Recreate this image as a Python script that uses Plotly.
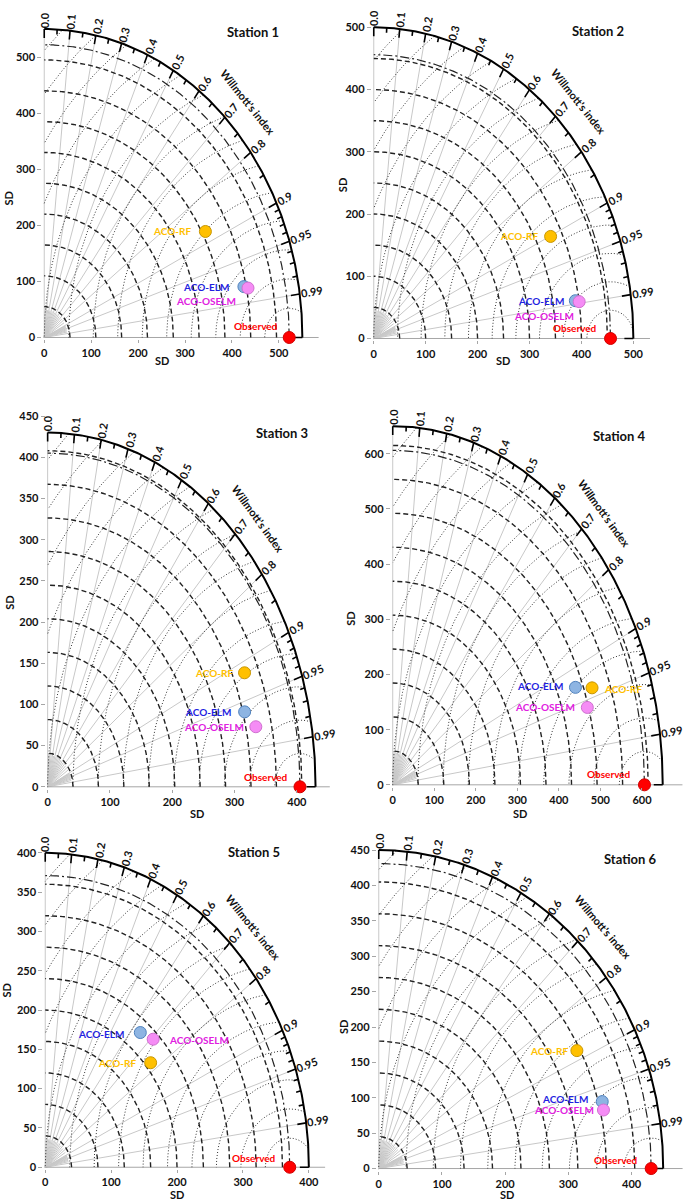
import numpy as np
import plotly.graph_objects as go

W, H = 685, 1204

# ---------------- data ----------------
stations = ["Station 1", "Station 2", "Station 3", "Station 4", "Station 5", "Station 6"]
models = ["ACO-RF", "ACO-ELM", "ACO-OSELM"]
obs_sd = [522, 456, 405, 606, 371, 431]
rf_sd = [392, 378, 345, 511, 208, 355]
rf_idx = [0.876, 0.901, 0.916, 0.939, 0.769, 0.883]
elm_sd = [435, 393, 329, 474, 224, 366]
elm_idx = [0.978, 0.988, 0.961, 0.928, 0.644, 0.966]
oselm_sd = [443, 400, 342, 489, 231, 365]
oselm_idx = [0.980, 0.989, 0.977, 0.958, 0.709, 0.974]
arc_max = [550, 500, 430, 650, 400, 450]
sd_grid_step = [55, 50, 40.8, 61.5, 40, 45]
major_idx = [0.0, 0.1, 0.2, 0.3, 0.4, 0.5, 0.6, 0.7, 0.8, 0.9, 0.95, 0.99, 1.0]
minor_idx = [0.05, 0.15, 0.25, 0.35, 0.45, 0.55, 0.65, 0.75, 0.85, 0.91, 0.92, 0.93, 0.94, 0.96, 0.97, 0.98]
label_idx = ["0.0", "0.1", "0.2", "0.3", "0.4", "0.5", "0.6", "0.7", "0.8", "0.9", "0.95", "0.99"]
radial_idx = [0.1, 0.2, 0.3, 0.4, 0.5, 0.6, 0.7, 0.8, 0.9, 0.95, 0.99]

# ---------------- layout geometry (pixels) ----------------
geo = [
    dict(x0=43.3, y0=335.0, xs=0.470, ys=0.565, xmax=585, ymax=550, xdt=100, ydt=100),
    dict(x0=373.3, y0=336.0, xs=0.520, ys=0.627, xmax=532, ymax=500, xdt=100, ydt=100),
    dict(x0=46.7, y0=787.7, xs=0.624, ys=0.830, xmax=453, ymax=450, xdt=100, ydt=50),
    dict(x0=392.3, y0=785.7, xs=0.416, ys=0.556, xmax=698, ymax=650, xdt=100, ydt=100),
    dict(x0=44.3, y0=1171.0, xs=0.660, ys=0.792, xmax=425, ymax=400, xdt=100, ydt=50),
    dict(x0=378.3, y0=1172.3, xs=0.633, ys=0.713, xmax=481, ymax=450, xdt=100, ydt=50),
]
title_pos = [(252, 27), (598, 26), (281.5, 431), (619, 434), (253, 853), (630, 860)]
xtitle_pos = [(161.7, 358), (503, 358), (196.7, 815), (520, 815), (176.7, 1198.5), (507, 1198.5)]
ytitle_pos = [(8, 195), (342, 182), (8.3, 602), (350, 618), (6, 993), (343.3, 1030)]
# label placement: (anchor, xshift, yshift) for RF, ELM, OSELM, Observed
lab_cfg = [
    [("right", -12, 0), ("right", -13, 0), ("right", -10, -13), ("right", -9, 11)],
    [("right", -11, 0), ("right", -9, 0), ("right", -3, -14), ("right", -12, 10)],
    [("right", -10, 0), ("right", -12, 0), ("right", -10, 0), ("right", -10, 10)],
    [("left", 10, -1), ("right", -10, 1), ("right", -10, 0), ("right", -11, 11)],
    [("right", -13, 0), ("right", -14, -1), ("left", 14, -1), ("right", -12, 9)],
    [("right", -7, 0), ("right", -12, 3), ("right", -7, 0), ("right", -11, 9)],
]

model_fill = ["#FFC000", "#8DB4E2", "#F58CF5"]
model_line = ["#C89600", "#4F81BD", "#D070D0"]
model_text = ["#FFC000", "#1F1FE0", "#E020E0"]
obs_color = "#FF0000"

FONT = "Lato"
fig = go.Figure()
annotations = []


def pol(r, c):
    th = np.arccos(np.clip(c, -1, 1))
    return r * np.cos(th), r * np.sin(th)


for i, g in enumerate(geo):
    R = arc_max[i]
    obs = obs_sd[i]
    xs, ys = g["xs"], g["ys"]
    xn = "x" if i == 0 else f"x{i+1}"
    yn = "y" if i == 0 else f"y{i+1}"
    pad_x = 2.0 / xs
    pad_y = 2.0 / ys
    xmin, xmax = -pad_x, g["xmax"]
    ymin, ymax = -pad_y, g["ymax"] + pad_y
    dl = (g["x0"] + xmin * xs) / W
    dr = min((g["x0"] + xmax * xs) / W, 1.0)
    xmax = (dr * W - g["x0"]) / xs
    db = (H - (g["y0"] - ymin * ys)) / H
    dt = (H - (g["y0"] - ymax * ys)) / H
    xkey = "xaxis" if i == 0 else f"xaxis{i+1}"
    ykey = "yaxis" if i == 0 else f"yaxis{i+1}"
    fig.layout[xkey] = dict(domain=[dl, dr], range=[xmin, xmax], anchor=yn,
                            showgrid=False, zeroline=False, showline=False,
                            tickmode="linear", tick0=0, dtick=g["xdt"],
                            ticks="outside", ticklen=3, tickcolor="#A6A6A6",
                            tickfont=dict(family=FONT, size=11, color="#111111", weight="bold"),
                            fixedrange=True)
    fig.layout[ykey] = dict(domain=[db, dt], range=[ymin, ymax], anchor=xn,
                            showgrid=False, zeroline=False, showline=False,
                            tickmode="linear", tick0=0, dtick=g["ydt"],
                            ticks="outside", ticklen=4, tickcolor="#A6A6A6",
                            tickfont=dict(family=FONT, size=11, color="#111111", weight="bold"),
                            fixedrange=True)

    # radial gray lines (full length) and short fan lines near the origin
    rx, ry = [], []
    for c in [0.0] + radial_idx:
        ex, ey = pol(R, c)
        rx += [0, ex, None]
        ry += [0, ey, None]
    for c in minor_idx:
        ex, ey = pol(0.09 * R, c)
        rx += [0, ex, None]
        ry += [0, ey, None]
    fig.add_trace(go.Scatter(x=rx, y=ry, mode="lines", xaxis=xn, yaxis=yn,
                             line=dict(color="#C8C8C8", width=1), hoverinfo="skip"))
    # x axis line
    fig.add_trace(go.Scatter(x=[0, xmax], y=[0, 0], mode="lines", xaxis=xn, yaxis=yn,
                             line=dict(color="#A6A6A6", width=1), hoverinfo="skip"))

    t = np.linspace(0, np.pi / 2, 300)
    # dotted arcs centred on observation
    step_o = obs / 10.0
    dx_, dy_ = [], []
    a = np.linspace(0, np.pi, 900)
    for k in range(1, 16):
        r = k * step_o
        px = obs + r * np.cos(a)
        py = r * np.sin(a)
        m = (px >= 0) & (py >= 0) & (np.hypot(px, py) <= R)
        prev = False
        for xx, yy, mm in zip(px, py, m):
            if mm:
                dx_.append(xx)
                dy_.append(yy)
            elif prev:
                dx_.append(None)
                dy_.append(None)
            prev = mm
        dx_.append(None)
        dy_.append(None)
    fig.add_trace(go.Scatter(x=dx_, y=dy_, mode="lines", xaxis=xn, yaxis=yn,
                             line=dict(color="#333333", width=1, dash="1px,2px"), hoverinfo="skip"))

    # dashed SD arcs
    sx, sy = [], []
    k = 1
    while k * sd_grid_step[i] < R - 1:
        r = k * sd_grid_step[i]
        sx += list(r * np.cos(t)) + [None]
        sy += list(r * np.sin(t)) + [None]
        k += 1
    fig.add_trace(go.Scatter(x=sx, y=sy, mode="lines", xaxis=xn, yaxis=yn,
                             line=dict(color="#222222", width=1.4, dash="5px,3px"), hoverinfo="skip"))
    # dash-dot observed SD arc
    fig.add_trace(go.Scatter(x=obs * np.cos(t), y=obs * np.sin(t), mode="lines", xaxis=xn, yaxis=yn,
                             line=dict(color="#222222", width=1.2, dash="9px,3px,2px,3px"), hoverinfo="skip"))
    # outer arc
    fig.add_trace(go.Scatter(x=R * np.cos(t), y=R * np.sin(t), mode="lines", xaxis=xn, yaxis=yn,
                             line=dict(color="#000000", width=2), hoverinfo="skip"))
    # ticks on outer arc
    tx, ty = [], []
    for vals, ln in ((major_idx, 9.0), (minor_idx, 5.0)):
        for c in vals:
            th = np.arccos(c)
            lpx = np.hypot(R * xs * np.cos(th), R * ys * np.sin(th))
            r_in = R * (1 - ln / lpx)
            x1, y1 = pol(R, c)
            x2, y2 = pol(r_in, c)
            tx += [x1, x2, None]
            ty += [y1, y2, None]
    fig.add_trace(go.Scatter(x=tx, y=ty, mode="lines", xaxis=xn, yaxis=yn,
                             line=dict(color="#000000", width=1.6), hoverinfo="skip"))

    # tick labels on arc
    for lab in label_idx:
        c = float(lab)
        th = np.arccos(c)
        vx, vy = xs * np.cos(th), ys * np.sin(th)
        phi = np.arctan2(vy, vx)
        ndig = len(lab) - 1
        w = 11 * (0.56 * ndig + 0.25)
        d = 1.5 + w / 2
        x1, y1 = pol(R, c)
        annotations.append(dict(x=x1, y=y1, xref=xn, yref=yn, text=lab, showarrow=False,
                                xanchor="center", yanchor="middle",
                                xshift=d * np.cos(phi), yshift=d * np.sin(phi),
                                textangle=-np.degrees(phi),
                                font=dict(family=FONT, size=11, color="#111111", weight="bold")))
    # Willmott's index label
    c = 0.72
    th = np.arccos(c)
    aa, bb = R * xs, R * ys
    phi = np.arctan2(ys * np.sin(th), xs * np.cos(th))
    ang = np.degrees(np.arctan2(bb * np.cos(th), aa * np.sin(th)))
    x1, y1 = pol(R, c)
    annotations.append(dict(x=x1, y=y1, xref=xn, yref=yn, text="Willmott's index", showarrow=False,
                            xanchor="center", yanchor="middle",
                            xshift=28 * np.cos(phi), yshift=28 * np.sin(phi), textangle=ang,
                            font=dict(family=FONT, size=11, color="#111111", weight="bold")))

    # points
    sds = [rf_sd[i], elm_sd[i], oselm_sd[i]]
    idx = [rf_idx[i], elm_idx[i], oselm_idx[i]]
    for j, name in enumerate(models):
        px, py = pol(sds[j], idx[j])
        fig.add_trace(go.Scatter(x=[px], y=[py], mode="markers", xaxis=xn, yaxis=yn, name=name,
                                 marker=dict(size=12, color=model_fill[j],
                                             line=dict(color=model_line[j], width=1)),
                                 cliponaxis=False, hoverinfo="skip"))
        anc, xsh, ysh = lab_cfg[i][j]
        annotations.append(dict(x=px, y=py, xref=xn, yref=yn, text=name, showarrow=False,
                                xanchor=anc, yanchor="middle", xshift=xsh, yshift=ysh,
                                font=dict(family=FONT, size=10, color=model_text[j], weight="bold")))
    fig.add_trace(go.Scatter(x=[obs], y=[0], mode="markers", xaxis=xn, yaxis=yn, name="Observed",
                             marker=dict(size=12, color=obs_color, line=dict(color="#D00000", width=1)),
                             cliponaxis=False, hoverinfo="skip"))
    anc, xsh, ysh = lab_cfg[i][3]
    annotations.append(dict(x=obs, y=0, xref=xn, yref=yn, text="Observed", showarrow=False,
                            xanchor=anc, yanchor="middle", xshift=xsh, yshift=ysh,
                            font=dict(family=FONT, size=10, color=obs_color, weight="bold")))

    # titles
    tpx, tpy = title_pos[i]
    annotations.append(dict(x=tpx / W, y=1 - tpy / H, xref="paper", yref="paper", text=stations[i],
                            showarrow=False, xanchor="center", yanchor="middle",
                            font=dict(family=FONT, size=13, color="#111111", weight="bold")))
    qx, qy = xtitle_pos[i]
    annotations.append(dict(x=qx / W, y=1 - qy / H, xref="paper", yref="paper", text="SD",
                            showarrow=False, xanchor="center", yanchor="middle",
                            font=dict(family=FONT, size=11, color="#111111", weight="bold")))
    qx, qy = ytitle_pos[i]
    annotations.append(dict(x=qx / W, y=1 - qy / H, xref="paper", yref="paper", text="SD",
                            showarrow=False, xanchor="center", yanchor="middle", textangle=-90,
                            font=dict(family=FONT, size=11, color="#111111", weight="bold")))

fig.update_layout(width=W, height=H, margin=dict(l=0, r=0, t=0, b=0),
                  paper_bgcolor="white", plot_bgcolor="white", showlegend=False,
                  annotations=annotations)
fig.write_html("out.html", config={"displayModeBar": False},
               post_script="document.body.style.margin='0px';document.body.style.padding='0px';"
                           "document.body.style.overflow='hidden';")
